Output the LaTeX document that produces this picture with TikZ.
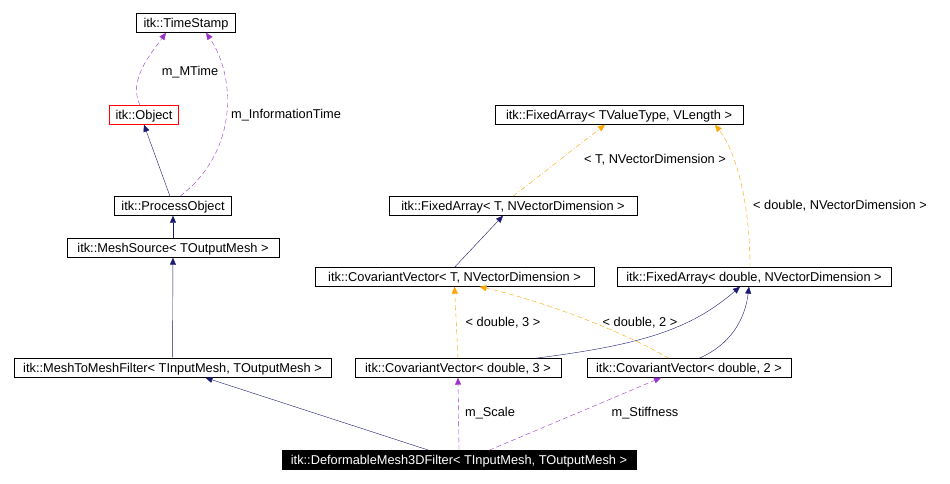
\documentclass[tikz,border=0pt]{standalone}
\usepackage{fontspec}
\setmainfont{Liberation Sans}
\usetikzlibrary{arrows.meta}
\definecolor{inher}{HTML}{191970}
\definecolor{usage}{HTML}{9A32CD}
\definecolor{templ}{HTML}{FFA500}
\tikzset{
  cls/.style={draw, thin, fill=white, inner sep=0pt, minimum height=19pt,
    font=\fontsize{12.8}{14}\selectfont, text depth=0pt},
  isa/.style={draw=inher, -{Triangle[length=7pt,width=6pt,fill=inher]}},
  uses/.style={draw=usage, dash pattern=on 5pt off 3pt, -{Triangle[length=7pt,width=6pt,fill=usage]}},
  inst/.style={draw=templ, dash pattern=on 5pt off 3pt, -{Triangle[length=7pt,width=6pt,fill=templ]}},
  lbl/.style={font=\fontsize{12.8}{14}\selectfont}
}
\begin{document}
\begin{tikzpicture}[x=1pt,y=-1pt]
 \useasboundingbox (0,0) rectangle (950,483);

 %%%%%%%%%% Classes %%%%%%%%%%
 \node[cls, minimum width=99pt] (ts) at (186,23) {itk::TimeStamp};
 \node[cls, minimum width=69pt, draw=red] (obj) at (144,115) {itk::Object};
 \node[cls, minimum width=117pt] (po) at (173,206) {itk::ProcessObject};
 \node[cls, minimum width=212pt] (ms) at (173,248) {itk::MeshSource< TOutputMesh >};
 \node[cls, minimum width=317pt] (mtm) at (172.5,368) {itk::MeshToMeshFilter< TInputMesh, TOutputMesh >};
 \node[cls, minimum width=354pt, fill=black, text=white] (dm) at (459,460) {itk::DeformableMesh3DFilter< TInputMesh, TOutputMesh >};
 \node[cls, minimum width=248pt] (fatv) at (619,115) {itk::FixedArray< TValueType, VLength >};
 \node[cls, minimum width=248pt] (fat) at (513,206) {itk::FixedArray< T, NVectorDimension >};
 \node[cls, minimum width=279pt] (cvt) at (454.5,277) {itk::CovariantVector< T, NVectorDimension >};
 \node[cls, minimum width=274pt] (fad) at (754,277) {itk::FixedArray< double, NVectorDimension >};
 \node[cls, minimum width=206pt] (cv3) at (458,368) {itk::CovariantVector< double, 3 >};
 \node[cls, minimum width=204pt] (cv2) at (689,368) {itk::CovariantVector< double, 2 >};

 % Inheritance
 \draw[isa] (po.north) ++(-3,0) -- (obj.south);
 \draw[isa] (ms) -- (po);
 \draw[isa] (mtm) -- (ms);
 \draw[isa] ([xshift=-30pt]dm.north) -- ([xshift=33pt]mtm.south);
 \draw[isa] ([xshift=0pt]cvt.north) -- ([xshift=-10pt]fat.south);
 \draw[isa] ([xshift=77pt]cv3.north) .. controls (640,345) and (690,330) .. ([xshift=-14pt]fad.south);
 \draw[isa] ([xshift=10pt]cv2.north) .. controls (730,345) and (745,320) .. ([xshift=-5pt]fad.south);

 % Usage
 \draw[uses] ([xshift=-4pt]obj.north) .. controls (128,80) and (150,55) .. ([xshift=-20pt]ts.south);
 \draw[uses] ([xshift=7pt]po.north) .. controls (240,150) and (235,75) .. ([xshift=20pt]ts.south);
 \draw[uses] (dm.north) -- (cv3.south);
 \draw[uses] ([xshift=30pt]dm.north) -- ([xshift=-28pt]cv2.south);
 \node[lbl] (lmt) at (190,72) {m\_MTime};
 \node[lbl] (lit) at (286,115) {m\_InformationTime};
 \node[lbl] (lsc) at (490,413) {m\_Scale};
 \node[lbl] (lst) at (645,413) {m\_Stiffness};

 % Template instances
 \draw[inst, dash pattern=on 5pt off 2pt on 1pt off 2pt] (fat.north) -- ([xshift=-14pt]fatv.south);
 \draw[inst] ([xshift=-4pt]fad.north) .. controls (750,200) and (735,150) .. ([xshift=96pt]fatv.south);
 \draw[inst] (cv3.north) -- (cvt.south);
 \draw[inst] ([xshift=-20pt]cv2.north) .. controls (620,330) and (540,300) .. ([xshift=25pt]cvt.south);
 \node[lbl] (lt) at (655,160) {< T, NVectorDimension >};
 \node[lbl] (ld) at (840,206) {< double, NVectorDimension >};
 \node[lbl] (l3) at (503,323) {< double, 3 >};
 \node[lbl] (l2) at (640,323) {< double, 2 >};
\end{tikzpicture}
\end{document}
